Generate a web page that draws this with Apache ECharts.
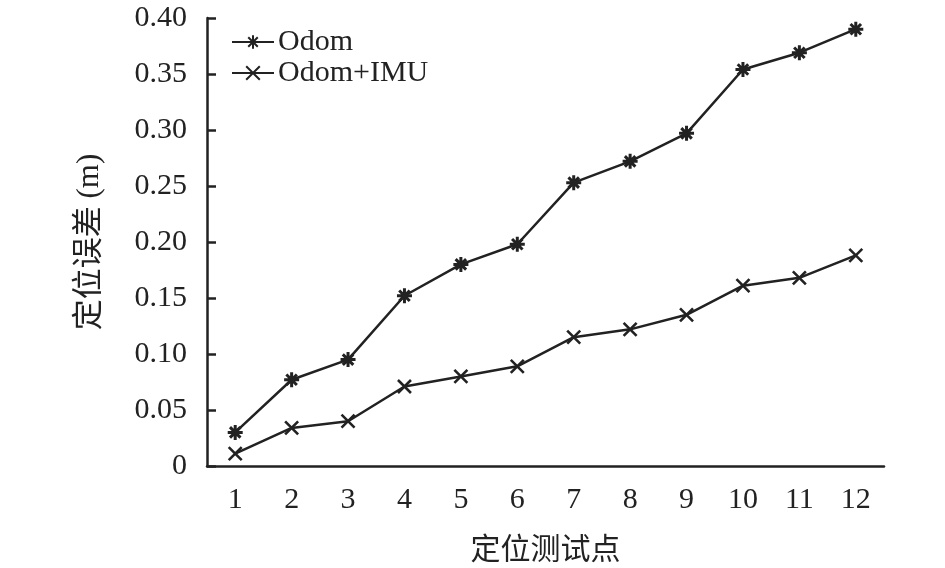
<!DOCTYPE html>
<html><head><meta charset="utf-8">
<script src="https://cdn.jsdelivr.net/npm/echarts@6/dist/echarts.min.js"></script>
<style>html,body{margin:0;padding:0;background:#fff}#c{width:945px;height:568px}</style>
</head><body><div id="c"></div>
<script>
const categories = ['1','2','3','4','5','6','7','8','9','10','11','12'];
const odom = [0.030, 0.077, 0.095, 0.152, 0.180, 0.198, 0.253, 0.272, 0.297, 0.354, 0.369, 0.390];
const odomImu = [0.011, 0.034, 0.040, 0.071, 0.080, 0.089, 0.115, 0.122, 0.135, 0.161, 0.168, 0.188];
const seriesNames = ['Odom', 'Odom+IMU'];
const xName = '定位测试点';
const yName = '定位误差 (m)';

const INK = '#222';
const FONT = '"Liberation Serif", "Times New Roman", "Noto Sans CJK SC", serif';
const starPath = 'path://M5,0L5,10M0,5L10,5M1.5,1.5L8.5,8.5M8.5,1.5L1.5,8.5';
const crossPath = 'path://M0,0L10,10M10,0L0,10';

const chart = echarts.init(document.getElementById('c'), null, {renderer: 'canvas'});
chart.setOption({
  animation: false,
  backgroundColor: '#fff',
  grid: {left: 207, right: 61, top: 18, bottom: 102, containLabel: false, outerBoundsMode: 'none'},
  legend: {
    orient: 'vertical', left: 231, top: 27, padding: 0,
    itemWidth: 42, itemHeight: 17, itemGap: 1,
    textStyle: {fontFamily: FONT, fontSize: 30, lineHeight: 30, color: INK, padding: [0,0,0,-1]},
    data: seriesNames
  },
  xAxis: {
    type: 'category', data: categories, boundaryGap: true,
    name: xName, nameLocation: 'middle', nameGap: 70,
    nameTextStyle: {fontFamily: FONT, fontSize: 30, color: INK},
    axisLine: {lineStyle: {color: INK, width: 2.5}},
    axisTick: {inside: true, alignWithLabel: true, length: 9, lineStyle: {color: INK, width: 2.5}},
    axisLabel: {fontFamily: FONT, fontSize: 30, color: INK, margin: 19},
    splitLine: {show: false}
  },
  yAxis: {
    type: 'value', min: 0, max: 0.40, interval: 0.05,
    name: yName, nameLocation: 'middle', nameGap: 102, nameRotate: 90,
    nameTextStyle: {fontFamily: FONT, fontSize: 31, color: INK},
    axisLine: {show: true, lineStyle: {color: INK, width: 2.5}},
    axisTick: {show: true, inside: true, length: 9, lineStyle: {color: INK, width: 2.5}},
    axisLabel: {fontFamily: FONT, fontSize: 30, color: INK, margin: 20,
      formatter: v => v === 0 ? '0' : v.toFixed(2)},
    splitLine: {show: false}
  },
  series: [
    {
      name: seriesNames[0], type: 'line', data: odom,
      symbol: starPath, symbolSize: 15,
      lineStyle: {color: INK, width: 2.5},
      itemStyle: {color: INK, borderColor: INK, borderWidth: 3}
    },
    {
      name: seriesNames[1], type: 'line', data: odomImu,
      symbol: crossPath, symbolSize: 13,
      lineStyle: {color: INK, width: 2.5},
      itemStyle: {color: INK, borderColor: INK, borderWidth: 2.6}
    }
  ]
});
</script></body></html>
